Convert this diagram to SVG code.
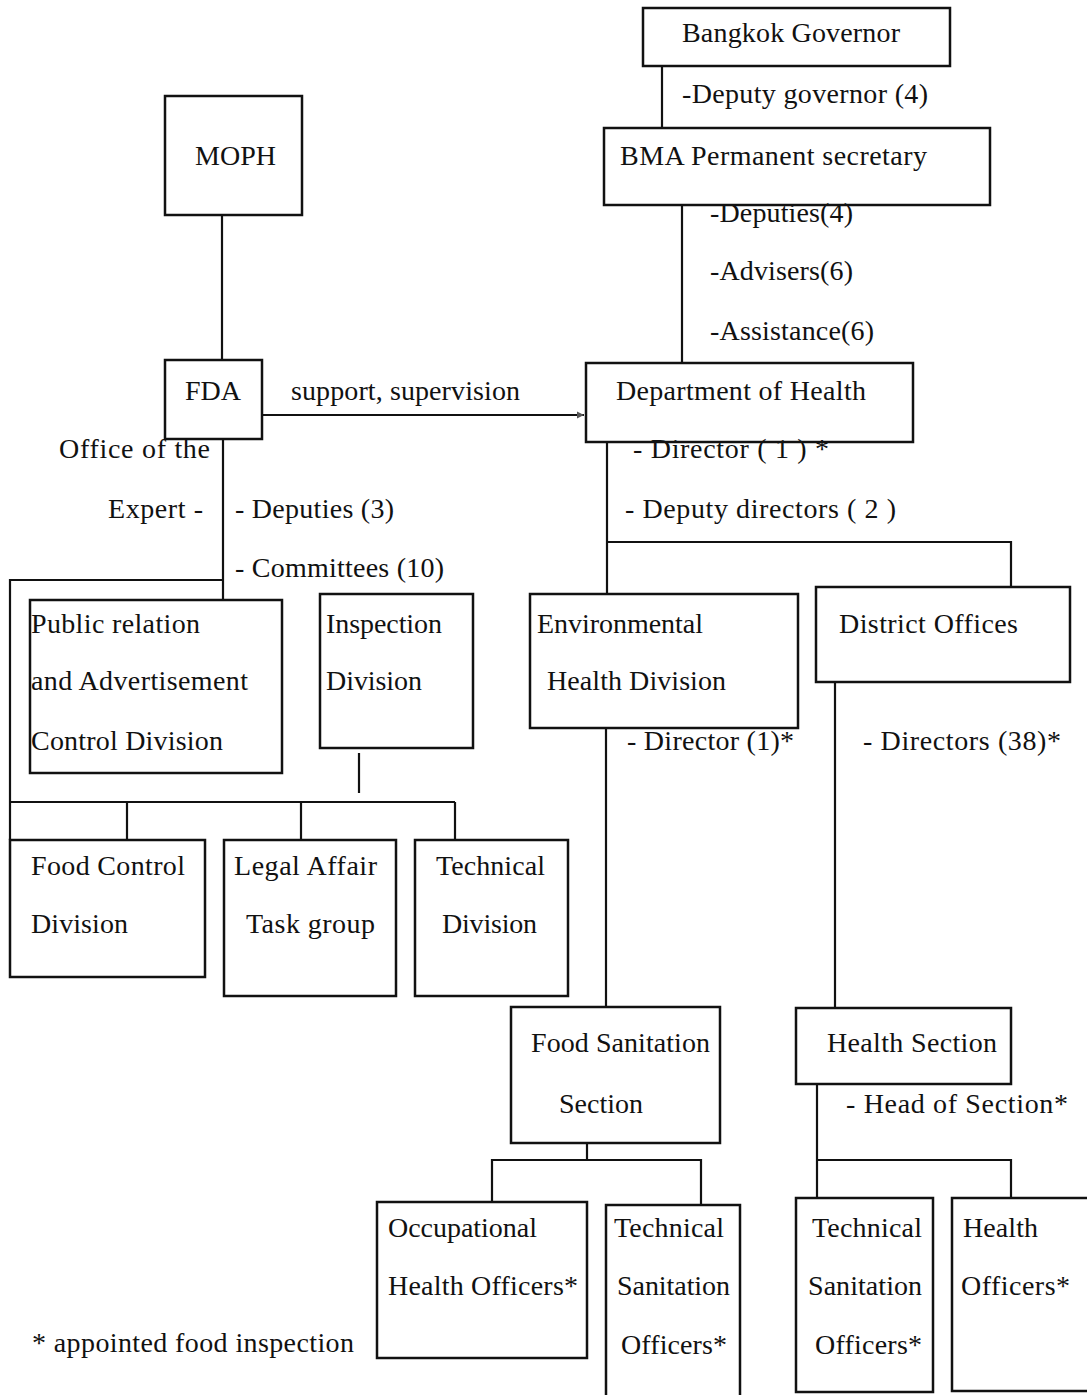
<svg xmlns="http://www.w3.org/2000/svg" width="1087" height="1395" viewBox="0 0 1087 1395">
<style>
.box{fill:#fff;stroke:#111;stroke-width:2.5}
.ln{fill:none;stroke:#111;stroke-width:2.2}
text{font-family:"Liberation Serif","Times New Roman",serif;font-size:28px;fill:#111}
</style>
<defs>
<marker id="arr" markerWidth="8" markerHeight="8" refX="7" refY="4" orient="auto" markerUnits="userSpaceOnUse">
<path d="M0,0.5 L7,4 L0,7.5 z" fill="#555"/>
</marker>
</defs>
<rect width="1087" height="1395" fill="#fff"/>
<g id="connectors">
<line class="ln" x1="662" y1="66" x2="662" y2="128"/>
<line class="ln" x1="682" y1="205" x2="682" y2="363"/>
<line class="ln" x1="222" y1="215" x2="222" y2="360"/>
<line class="ln" x1="262" y1="415" x2="584" y2="415" marker-end="url(#arr)"/>
<line class="ln" x1="223" y1="439" x2="223" y2="600"/>
<polyline class="ln" points="223,580 10,580 10,840"/>
<line class="ln" x1="359" y1="753" x2="359" y2="793"/>
<line class="ln" x1="10" y1="802" x2="455" y2="802"/>
<line class="ln" x1="127" y1="802" x2="127" y2="840"/>
<line class="ln" x1="301" y1="802" x2="301" y2="840"/>
<line class="ln" x1="455" y1="802" x2="455" y2="840"/>
<line class="ln" x1="607" y1="442" x2="607" y2="594"/>
<polyline class="ln" points="607,542 1011,542 1011,587"/>
<line class="ln" x1="606" y1="717" x2="606" y2="1007"/>
<line class="ln" x1="835" y1="682" x2="835" y2="1012"/>
<line class="ln" x1="587" y1="1143" x2="587" y2="1160" stroke="#999"/>
<polyline class="ln" points="492,1202 492,1160 701,1160 701,1205"/>
<line class="ln" x1="817" y1="1080" x2="817" y2="1198"/>
<polyline class="ln" points="817,1160 1011,1160 1011,1198"/>
</g>
<g id="governor">
<rect class="box" x="643" y="8" width="307" height="58"/>
<text x="682" y="42" textLength="218" lengthAdjust="spacing">Bangkok Governor</text>
</g>
<g id="bma">
<rect class="box" x="604" y="128" width="386" height="77"/>
<text x="620" y="165" textLength="307" lengthAdjust="spacing">BMA Permanent secretary</text>
</g>
<g id="moph">
<rect class="box" x="165" y="96" width="137" height="119"/>
<text x="195" y="165" textLength="81" lengthAdjust="spacing">MOPH</text>
</g>
<g id="fda">
<rect class="box" x="165" y="360" width="97" height="79"/>
<text x="185" y="400" textLength="56" lengthAdjust="spacing">FDA</text>
</g>
<g id="doh">
<rect class="box" x="586" y="363" width="327" height="79"/>
<text x="616" y="400" textLength="250" lengthAdjust="spacing">Department of Health</text>
</g>
<g id="public-relation">
<rect class="box" x="30" y="600" width="252" height="173"/>
<text x="31" y="633" textLength="169" lengthAdjust="spacing">Public relation</text>
<text x="31" y="690" textLength="217" lengthAdjust="spacing">and Advertisement</text>
<text x="31" y="750" textLength="192" lengthAdjust="spacing">Control Division</text>
</g>
<g id="inspection">
<rect class="box" x="320" y="594" width="153" height="154"/>
<text x="326" y="633" textLength="116" lengthAdjust="spacing">Inspection</text>
<text x="326" y="690" textLength="96" lengthAdjust="spacing">Division</text>
</g>
<g id="environmental">
<rect class="box" x="530" y="594" width="268" height="134"/>
<text x="537" y="633" textLength="166" lengthAdjust="spacing">Environmental</text>
<text x="547" y="690" textLength="179" lengthAdjust="spacing">Health Division</text>
</g>
<g id="district">
<rect class="box" x="816" y="587" width="254" height="95"/>
<text x="839" y="633" textLength="179" lengthAdjust="spacing">District Offices</text>
</g>
<g id="food-control">
<rect class="box" x="10" y="840" width="195" height="137"/>
<text x="31" y="875" textLength="154" lengthAdjust="spacing">Food Control</text>
<text x="31" y="933" textLength="97" lengthAdjust="spacing">Division</text>
</g>
<g id="legal">
<rect class="box" x="224" y="840" width="172" height="156"/>
<text x="234" y="875" textLength="143" lengthAdjust="spacing">Legal Affair</text>
<text x="246" y="933" textLength="129" lengthAdjust="spacing">Task group</text>
</g>
<g id="technical-division">
<rect class="box" x="415" y="840" width="153" height="156"/>
<text x="436" y="875" textLength="109" lengthAdjust="spacing">Technical</text>
<text x="442" y="933" textLength="95" lengthAdjust="spacing">Division</text>
</g>
<g id="food-sanitation">
<rect class="box" x="511" y="1007" width="209" height="136"/>
<text x="531" y="1052" textLength="179" lengthAdjust="spacing">Food Sanitation</text>
<text x="559" y="1113" textLength="84" lengthAdjust="spacing">Section</text>
</g>
<g id="health-section">
<rect class="box" x="796" y="1008" width="215" height="76"/>
<text x="827" y="1052" textLength="170" lengthAdjust="spacing">Health Section</text>
</g>
<g id="occupational">
<rect class="box" x="377" y="1202" width="210" height="156"/>
<text x="388" y="1237" textLength="149" lengthAdjust="spacing">Occupational</text>
<text x="388" y="1295" textLength="190" lengthAdjust="spacing">Health Officers*</text>
</g>
<g id="tech-sanitation-1">
<path class="box" d="M606,1400 V1205 H740 V1400"/>
<text x="614" y="1237" textLength="110" lengthAdjust="spacing">Technical</text>
<text x="617" y="1295" textLength="113" lengthAdjust="spacing">Sanitation</text>
<text x="621" y="1354" textLength="106" lengthAdjust="spacing">Officers*</text>
</g>
<g id="tech-sanitation-2">
<rect class="box" x="796" y="1198" width="137" height="194"/>
<text x="812" y="1237" textLength="110" lengthAdjust="spacing">Technical</text>
<text x="808" y="1295" textLength="114" lengthAdjust="spacing">Sanitation</text>
<text x="815" y="1354" textLength="107" lengthAdjust="spacing">Officers*</text>
</g>
<g id="health-officers">
<path class="box" d="M1090,1198 H952 V1391 H1090"/>
<text x="963" y="1237" textLength="75" lengthAdjust="spacing">Health</text>
<text x="961" y="1295" textLength="109" lengthAdjust="spacing">Officers*</text>
</g>
<g id="labels">
<text x="682" y="103" textLength="246" lengthAdjust="spacing">-Deputy governor (4)</text>
<text x="710" y="222" textLength="143" lengthAdjust="spacing">-Deputies(4)</text>
<text x="710" y="280" textLength="143" lengthAdjust="spacing">-Advisers(6)</text>
<text x="710" y="340" textLength="164" lengthAdjust="spacing">-Assistance(6)</text>
<text x="291" y="400" textLength="229" lengthAdjust="spacing">support, supervision</text>
<text x="59" y="458" textLength="151" lengthAdjust="spacing">Office of the</text>
<text x="108" y="518" textLength="95" lengthAdjust="spacing">Expert -</text>
<text x="235" y="518" textLength="159" lengthAdjust="spacing">- Deputies (3)</text>
<text x="235" y="577" textLength="209" lengthAdjust="spacing">- Committees (10)</text>
<text x="633" y="458" textLength="196" lengthAdjust="spacing">- Director ( 1 ) *</text>
<text x="625" y="518" textLength="271" lengthAdjust="spacing">- Deputy directors ( 2 )</text>
<text x="627" y="750" textLength="167" lengthAdjust="spacing">- Director (1)*</text>
<text x="863" y="750" textLength="198" lengthAdjust="spacing">- Directors (38)*</text>
<text x="846" y="1113" textLength="222" lengthAdjust="spacing">- Head of Section*</text>
<text x="32" y="1352" textLength="322" lengthAdjust="spacing">* appointed food inspection</text>
</g>
</svg>
